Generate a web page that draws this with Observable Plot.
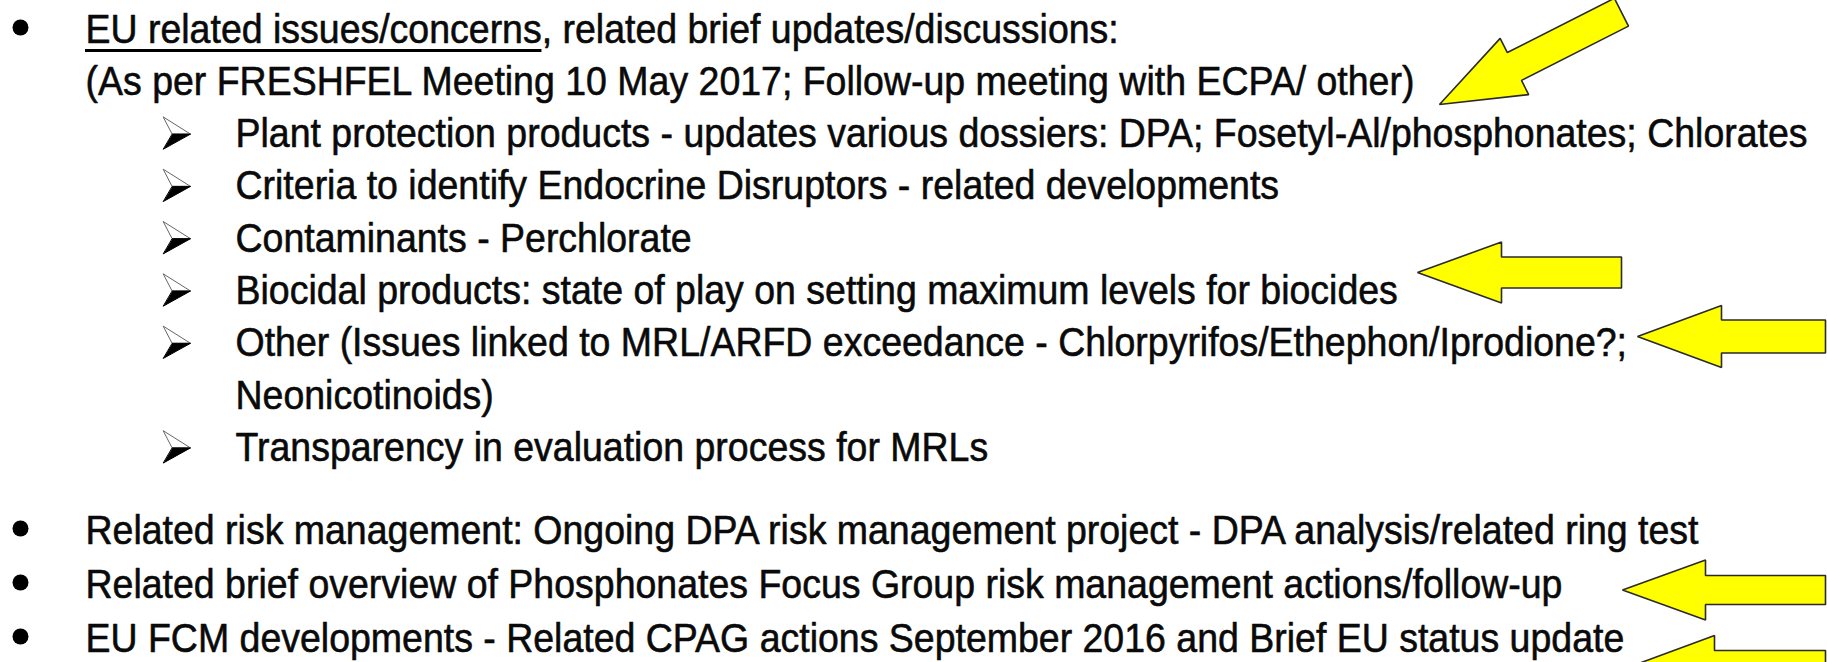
<!DOCTYPE html>
<html>
<head>
<meta charset="utf-8">
<script src="https://cdn.jsdelivr.net/npm/d3@7"></script>
<script src="https://cdn.jsdelivr.net/npm/@observablehq/plot@0.6"></script>
<style>
  html, body { margin: 0; padding: 0; background: #fff; overflow: hidden; }
  #chart svg { display: block; }
</style>
</head>
<body>
<div id="chart"></div>
<script>
// ---- content ----
const lineTexts = [
  "EU related issues/concerns, related brief updates/discussions:",
  "(As per FRESHFEL Meeting 10 May 2017; Follow-up meeting with ECPA/ other)",
  "Plant protection products - updates various dossiers: DPA; Fosetyl-Al/phosphonates; Chlorates",
  "Criteria to identify Endocrine Disruptors - related developments",
  "Contaminants - Perchlorate",
  "Biocidal products: state of play on setting maximum levels for biocides",
  "Other (Issues linked to MRL/ARFD exceedance - Chlorpyrifos/Ethephon/Iprodione?;",
  "Neonicotinoids)",
  "Transparency in evaluation process for MRLs",
  "Related risk management: Ongoing DPA risk management project - DPA analysis/related ring test",
  "Related brief overview of Phosphonates Focus Group risk management actions/follow-up",
  "EU FCM developments - Related CPAG actions September 2016 and Brief EU status update"
];
const lineLevels  = [0, 0, 1, 1, 1, 1, 1, 1, 1, 0, 0, 0];
const lineMarkers = ["bullet", "none", "arrow", "arrow", "arrow", "arrow", "arrow", "none", "arrow", "bullet", "bullet", "bullet"];
const lineBlocks  = [0, 0, 0, 0, 0, 0, 0, 0, 0, 1, 1, 1];
const underlinedText = "EU related issues/concerns";
const arrowTargets = [1, 5, 6, 10, 11];   // lines the yellow arrows point at

// ---- layout / style ----
const W = 1827, H = 662;
const FONT_SIZE = 41;
const FAMILY = "'Liberation Sans Narrow', 'Arial Narrow', 'Liberation Sans', Arial, sans-serif";
const BLOCK_START = [42, 543], BLOCK_GAP = [52.3, 54];
const INDENT = [85, 235];
const BULLET_X = 20, SUBMARK_X = 163;
const FIT_LINE = 2, FIT_RIGHT = 1808;
const arrowGeom = [
  {tipX: 1439, tipY: 104,   angle: -26.9, length: 204, headLen: 84, headHalf: 31.5, shaftHalf: 15.6},
  {tipX: 1417, tipY: 272,   angle: 0,     length: 204, headLen: 84, headHalf: 30.5, shaftHalf: 15.5},
  {tipX: 1637, tipY: 336,   angle: 0,     length: 188, headLen: 84, headHalf: 31,   shaftHalf: 16.5},
  {tipX: 1622, tipY: 589.5, angle: 0,     length: 203, headLen: 83, headHalf: 30,   shaftHalf: 14.5},
  {tipX: 1630, tipY: 666,   angle: 0,     length: 195, headLen: 84, headHalf: 31,   shaftHalf: 16}
];

// ---- derived ----
const blockFirst = b => lineBlocks.indexOf(b);
const baseline = i => BLOCK_START[lineBlocks[i]] + BLOCK_GAP[lineBlocks[i]] * (i - blockFirst(lineBlocks[i]));

const ctx = document.createElement("canvas").getContext("2d");
ctx.font = `${FONT_SIZE}px ${FAMILY}`;
const measure = t => ctx.measureText(t).width;
let sx = (FIT_RIGHT - INDENT[lineLevels[FIT_LINE]]) / measure(lineTexts[FIT_LINE]);
sx = Math.max(0.6, Math.min(1.3, sx));

const rows = lineTexts.map((text, i) => ({
  text, i, level: lineLevels[i], marker: lineMarkers[i],
  x: INDENT[lineLevels[i]], y: baseline(i)
}));

const bullets = rows.filter(d => d.marker === "bullet");

const subMarkUpper = [], subMarkLower = [];
rows.filter(d => d.marker === "arrow").forEach(d => {
  const x0 = SUBMARK_X, b = d.y;
  subMarkUpper.push(
    {id: d.i, x: x0, y: b - 30}, {id: d.i, x: x0 + 27, y: b - 13}, {id: d.i, x: x0 + 9, y: b - 13});
  subMarkLower.push(
    {id: d.i, x: x0 + 9, y: b - 13}, {id: d.i, x: x0 + 27, y: b - 13}, {id: d.i, x: x0, y: b + 2});
});

const arrowPts = [];
arrowGeom.forEach((g, k) => {
  const a = g.angle * Math.PI / 180, c = Math.cos(a), s = Math.sin(a);
  const local = [
    [0, 0], [g.headLen, -g.headHalf], [g.headLen, -g.shaftHalf], [g.length, -g.shaftHalf],
    [g.length, g.shaftHalf], [g.headLen, g.shaftHalf], [g.headLen, g.headHalf]
  ];
  local.forEach(([u, v]) => arrowPts.push({
    id: arrowTargets[k], x: g.tipX + u * c - v * s, y: g.tipY + u * s + v * c
  }));
});

const ulRow = rows[0];
const underline = [{y: ulRow.y + 8, x1: ulRow.x, x2: ulRow.x + measure(underlinedText) * sx}];

const chart = Plot.plot({
  width: W,
  height: H,
  margin: 0,
  style: {background: "#fff"},
  x: {type: "identity", axis: null},
  y: {type: "identity", axis: null},
  marks: [
    Plot.text(rows, {
      x: "x", y: "y", text: "text", textAnchor: "start", lineAnchor: "bottom",
      fontSize: FONT_SIZE, fontFamily: FAMILY, fill: "#0a0a0a",
      stroke: "#0a0a0a", strokeWidth: 0.6, paintOrder: "normal"
    }),
    Plot.ruleY(underline, {y: "y", x1: "x1", x2: "x2", stroke: "#000", strokeWidth: 2.8}),
    Plot.dot(bullets, {x: () => BULLET_X, y: d => d.y - 15, r: 8, fill: "#000", stroke: null}),
    Plot.line(subMarkUpper, {x: "x", y: "y", z: "id", curve: "linear-closed", fill: "#fff", stroke: "#666", strokeWidth: 1}),
    Plot.line(subMarkLower, {x: "x", y: "y", z: "id", curve: "linear-closed", fill: "#000", stroke: "#000", strokeWidth: 1}),
    Plot.line(arrowPts, {x: "x", y: "y", z: "id", curve: "linear-closed", fill: "#ffff00", stroke: "#2a2a2a", strokeWidth: 1.6, strokeLinejoin: "miter"})
  ]
});

// horizontal fit of the condensed text face
chart.querySelectorAll('g[aria-label="text"] text').forEach(el => {
  const t = el.getAttribute("transform") || "";
  el.setAttribute("transform", `${t} scale(${sx},1)`);
});

document.getElementById("chart").appendChild(chart);
</script>
</body>
</html>
